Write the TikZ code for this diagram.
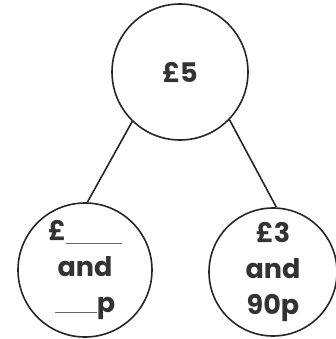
\documentclass[tikz,border=0pt]{standalone}
\usepackage{fontspec}
\setmainfont{Poppins}

\begin{document}
\begin{tikzpicture}[x=1pt,y=-1pt,
    bond/.style={circle,draw=black!85,line width=1.6pt,inner sep=0pt,align=center,
        text=black!80,font=\fontsize{27}{36}\selectfont\bfseries},
    link/.style={draw=black!85,line width=1.6pt}]
    \useasboundingbox (0,0) rectangle (335,339);
    \node[bond,minimum size=136pt] (whole) at (180,72) {£5};
    \node[bond,minimum size=134pt] (partA) at (85,270)
        {£\textcolor{black!60}{\rule[-4pt]{56pt}{1.2pt}}\\and\\\textcolor{black!60}{\rule[-1pt]{42pt}{1.2pt}}p};
    \node[bond,minimum size=128pt] (partB) at (273,272) {£3\\and\\90p};
    \draw[link] (whole.226) -- (partA.88);
    \draw[link] (whole.-44) -- (partB.87);
\end{tikzpicture}
\end{document}
